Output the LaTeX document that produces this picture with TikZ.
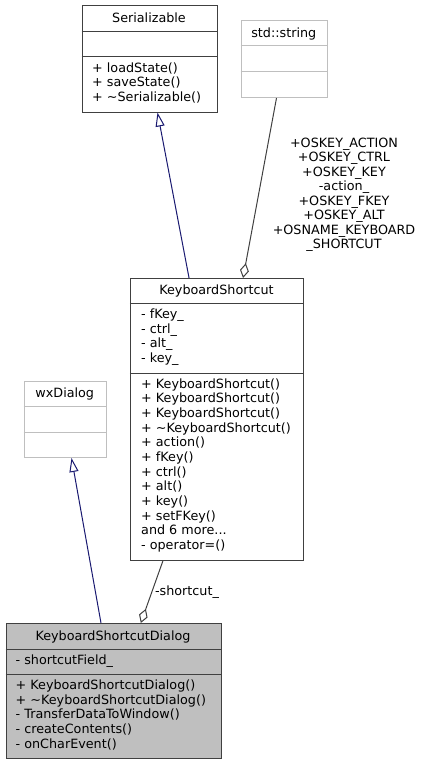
\documentclass[tikz,border=0pt]{standalone}
\usepackage{fontspec}
\setmainfont{DejaVu Sans}
\usetikzlibrary{arrows.meta}
\definecolor{umldark}{HTML}{404040}
\definecolor{umllight}{HTML}{BFBFBF}
\definecolor{umlblue}{HTML}{191970}
\tikzstyle{inherit} = [umlblue, line width=1bp, -{Triangle[open, length=14bp, width=9bp]}]
\tikzstyle{aggregate} = [umldark, line width=1bp, -{Diamond[open, length=15bp, width=9bp]}]
\tikzset{classbox/.style={rectangle, draw=umldark, fill=white, line width=1bp, inner sep=0, anchor=north west},extbox/.style={classbox, draw=umllight},sepline/.style={umldark, line width=1bp},boxtitle/.style={anchor=base, inner sep=0},member/.style={anchor=base west, inner sep=0}}

\begin{document}
\begin{tikzpicture}[x=1bp, y=-1bp, font=\fontsize{12.8}{14.6}\selectfont]
    \useasboundingbox (0,0) rectangle (422,764);

    % Serializable
    \node [classbox, minimum width=135bp, minimum height=106bp] (serializable) at (81.5,5.5) {};
    \draw [sepline] ([yshift=-26bp]serializable.north west) -- ([yshift=-26bp]serializable.north east);
    \draw [sepline] ([yshift=-51bp]serializable.north west) -- ([yshift=-51bp]serializable.north east);
    \node [boxtitle] (serializabletitle) at (149,22.5) {Serializable};
    \foreach \m [count=\i from 0] in {+ loadState(), + saveState(), + \textasciitilde Serializable()}
        \node [member] (serializablem\i) at (92,72.3+14.6*\i) {\m};

    % std::string
    \node [extbox, minimum width=86.5bp, minimum height=76.5bp] (stdstring) at (240.5,20.5) {};
    \draw [sepline, umllight] ([yshift=-25.5bp]stdstring.north west) -- ([yshift=-25.5bp]stdstring.north east);
    \draw [sepline, umllight] ([yshift=-50.5bp]stdstring.north west) -- ([yshift=-50.5bp]stdstring.north east);
    \node [boxtitle] (stdstringtitle) at (283.75,37.2) {std::string};

    % KeyboardShortcut
    \node [classbox, minimum width=173.5bp, minimum height=281.5bp] (kbshortcut) at (129.8,278) {};
    \draw [sepline] ([yshift=-25bp]kbshortcut.north west) -- ([yshift=-25bp]kbshortcut.north east);
    \draw [sepline] ([yshift=-95bp]kbshortcut.north west) -- ([yshift=-95bp]kbshortcut.north east);
    \node [boxtitle] (kbshortcuttitle) at (216.5,294.5) {KeyboardShortcut};
    \foreach \a [count=\i from 0] in {- fKey\_, - ctrl\_, - alt\_, - key\_}
        \node [member] (kbshortcuta\i) at (141,318.6+14.65*\i) {\a};
    \foreach \m [count=\i from 0] in {+ KeyboardShortcut(), + KeyboardShortcut(), + KeyboardShortcut(), + \textasciitilde KeyboardShortcut(), + action(), + fKey(), + ctrl(), + alt(), + key(), + setFKey()}
        \node [member] (kbshortcutm\i) at (141,388.3+14.64*\i) {\m};
    \node [member] (kbshortcutmore) at (141,534.7) {and 6 more...};
    \node [member] (kbshortcutop) at (141,549.4) {- operator=()};

    % wxDialog
    \node [extbox, minimum width=82.5bp, minimum height=76.5bp] (wxdialog) at (23.5,380.5) {};
    \draw [sepline, umllight] ([yshift=-25.5bp]wxdialog.north west) -- ([yshift=-25.5bp]wxdialog.north east);
    \draw [sepline, umllight] ([yshift=-51.5bp]wxdialog.north west) -- ([yshift=-51.5bp]wxdialog.north east);
    \node [boxtitle] (wxdialogtitle) at (64.75,397) {wxDialog};

    % KeyboardShortcutDialog
    \node [classbox, fill=umllight, minimum width=215bp, minimum height=135bp] (kbdialog) at (5.5,623) {};
    \draw [sepline] ([yshift=-26bp]kbdialog.north west) -- ([yshift=-26bp]kbdialog.north east);
    \draw [sepline] ([yshift=-51.5bp]kbdialog.north west) -- ([yshift=-51.5bp]kbdialog.north east);
    \node [boxtitle] (kbdialogtitle) at (113,640) {KeyboardShortcutDialog};
    \node [member] (kbdialoga0) at (15.5,664.6) {- shortcutField\_};
    \foreach \m [count=\i from 0] in {+ KeyboardShortcutDialog(), + \textasciitilde KeyboardShortcutDialog(), - TransferDataToWindow(), - createContents(), - onCharEvent()}
        \node [member] (kbdialogm\i) at (15.5,689.5+14.64*\i) {\m};

    % relations
    \draw [inherit] ([xshift=-28bp]kbshortcut.north) -- ([xshift=8bp]serializable.south);
    \draw [inherit] ([xshift=-12.5bp]kbdialog.north) -- ([xshift=6.25bp]wxdialog.south);
    \draw [aggregate] ([xshift=-7.75bp]stdstring.south) -- ([xshift=26bp]kbshortcut.north);
    \draw [aggregate] ([xshift=-54bp]kbshortcut.south) -- ([xshift=27.3bp]kbdialog.north);

    \foreach \l [count=\i from 0] in {+OSKEY\_ACTION, +OSKEY\_CTRL, +OSKEY\_KEY, -action\_, +OSKEY\_FKEY, +OSKEY\_ALT, +OSNAME\_KEYBOARD, \_SHORTCUT}
        \node [boxtitle] (stringlabel\i) at (344,147.3+14.5*\i) {\l};
    \node [boxtitle] (shortcutlabel) at (187,595) {-shortcut\_};
\end{tikzpicture}
\end{document}
